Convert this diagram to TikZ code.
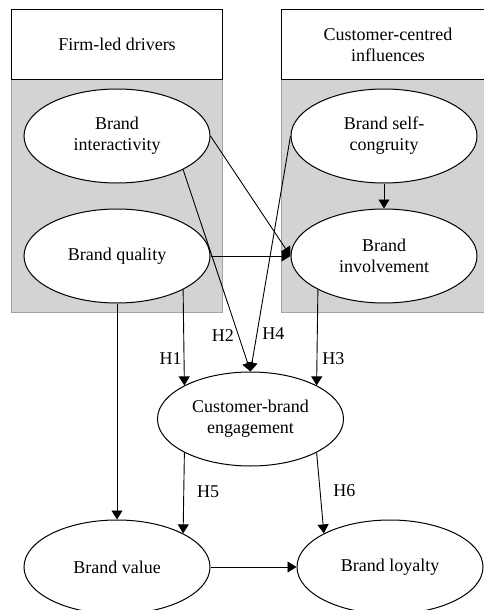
\documentclass[tikz,border=0pt]{standalone}
\usepackage{fontspec}
\setmainfont{Liberation Serif}
\usetikzlibrary{arrows.meta, positioning, calc, backgrounds, shapes.geometric}
\definecolor{panelColor}{HTML}{D1D3D4}
\definecolor{panelEdgeColor}{HTML}{A3A3A3}

\begin{document}
\begin{tikzpicture}[
    x=1pt, y=-1pt,
    construct/.style={ellipse, draw, line width=1pt, fill=white, minimum width=186pt, minimum height=94pt, align=center, font=\fontsize{18}{21}\selectfont},
    header/.style={rectangle, draw, line width=1pt, fill=white, minimum width=211pt, minimum height=70pt, outer sep=0pt, align=center, font=\fontsize{18}{21}\selectfont},
    panel/.style={rectangle, draw=panelEdgeColor, line width=1pt, fill=panelColor, minimum width=211pt, minimum height=233pt, outer sep=0pt},
    hyp/.style={-{Triangle[length=9pt, width=11pt]}, line width=0.9pt},
    hypLabel/.style={font=\fontsize{18}{21}\selectfont, inner sep=1pt}
]
\useasboundingbox (0,0) rectangle (483,610);

\node[construct] at (117,136) (interactivity) {Brand\\interactivity};
\node[construct, below=25pt of interactivity] (quality) {Brand quality};
\node[construct, right=80pt of interactivity] (congruity) {Brand self-\\congruity};
\node[construct, below=25pt of congruity] (involvement) {Brand\\involvement};

\coordinate (mid) at ($(quality.south)!0.5!(involvement.south)$);
\node[construct, below=68pt of mid] (engagement) {Customer-brand\\engagement};

\node[construct, below=216pt of quality] (value) {Brand value};
\node[construct, right=86pt of value] (loyalty) {Brand loyalty};

\node[header, above=9pt of interactivity] (firmHead) {Firm-led drivers};
\node[header, above=9pt of congruity, minimum width=214pt, xshift=4pt] (custHead) {Customer-centred\\influences};

\begin{scope}[on background layer]
\node[panel, below=0pt of firmHead] (firmPanel) {};
\node[panel, below=0pt of custHead, minimum width=214pt] (custPanel) {};
\end{scope}

\draw[hyp] (interactivity.east) -- (involvement.west);
\draw[hyp] (quality.east) -- (involvement.west);
\draw[hyp] (congruity.south) -- (involvement.north);

\draw[hyp] (quality.south east) -- node[pos=0.72, left=1pt, hypLabel] {H1} (engagement.north west);
\draw[hyp] (interactivity.south east) -- node[pos=0.82, left=3pt, hypLabel] {H2} (engagement.north);
\draw[hyp] (involvement.south west) -- node[pos=0.72, right=4pt, hypLabel] {H3} (engagement.north east);
\draw[hyp] (congruity.west) -- node[pos=0.84, right=4pt, hypLabel] {H4} (engagement.north);

\draw[hyp] (quality.south) -- (value.north);
\draw[hyp] (engagement.south west) -- node[pos=0.48, right=12pt, hypLabel] {H5} (value.north east);
\draw[hyp] (engagement.south east) -- node[pos=0.47, right=12pt, hypLabel] {H6} (loyalty.north west);
\draw[hyp] (value.east) -- (loyalty.west);

\end{tikzpicture}
\end{document}
